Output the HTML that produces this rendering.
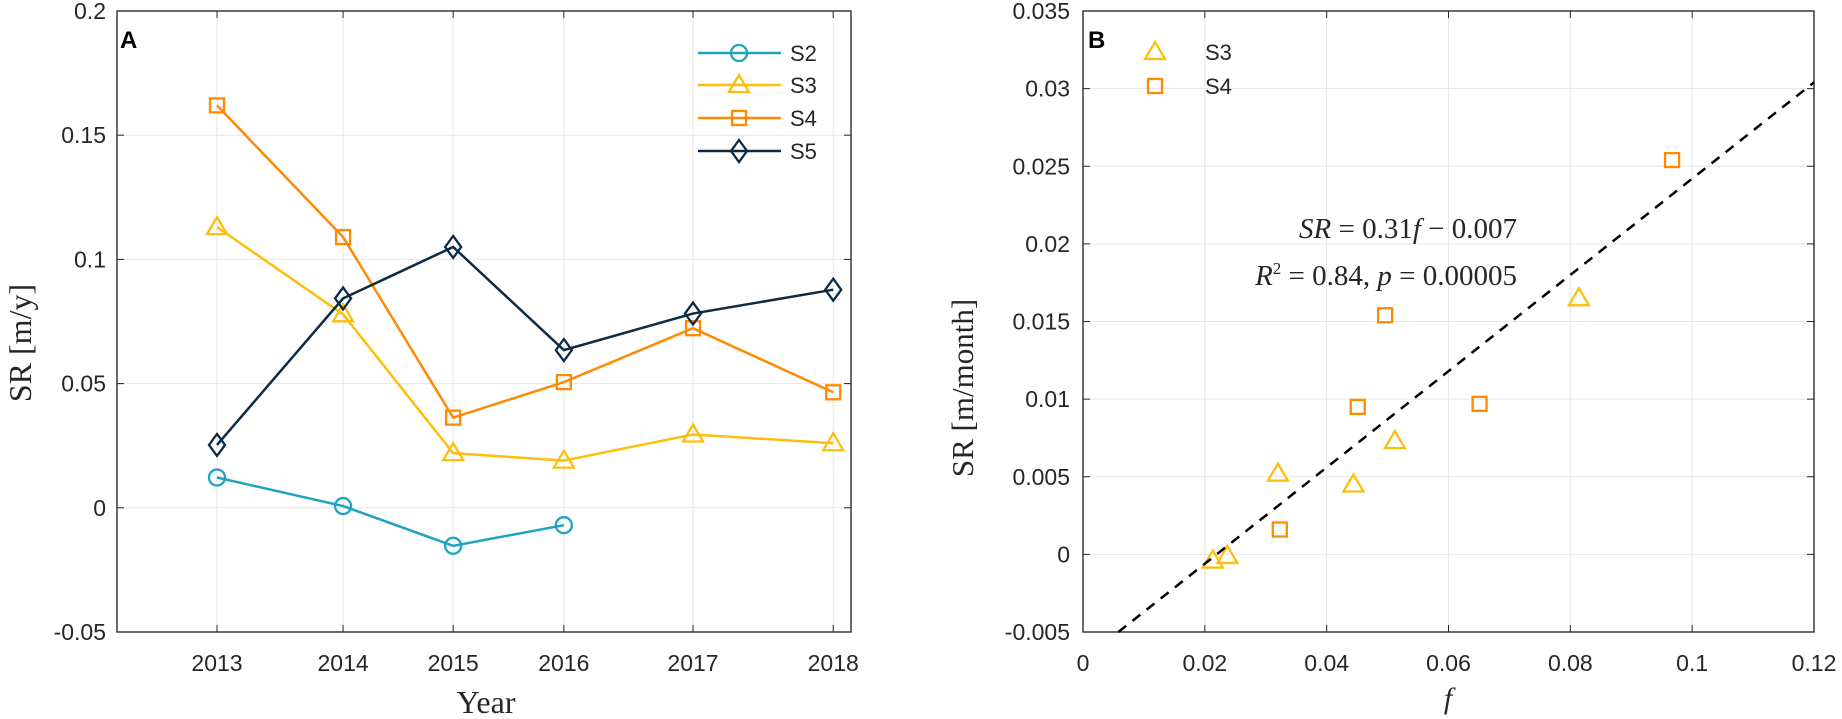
<!DOCTYPE html>
<html><head><meta charset="utf-8"><style>
html,body{margin:0;padding:0;background:#fff;}
svg{display:block;}
text{font-family:"Liberation Sans",sans-serif;fill:#262626;}
.serif{font-family:"Liberation Serif",serif;}
</style></head><body>
<svg id="fig" width="1842" height="719" viewBox="0 0 1842 719" xmlns="http://www.w3.org/2000/svg"></svg>
<script>
// Panel A data
const yearsX = [2013.0, 2014.025, 2014.92, 2015.82, 2016.87, 2018.01];
const yearLabels = ["2013","2014","2015","2016","2017","2018"];
const aYTicks = [-0.05, 0, 0.05, 0.1, 0.15, 0.2];
const aYTickLabels = ["-0.05","0","0.05","0.1","0.15","0.2"];
const s2Vals = [0.0122, 0.0007, -0.0153, -0.007];
const s3Vals = [0.113, 0.0779, 0.022, 0.019, 0.0295, 0.026];
const s4Vals = [0.162, 0.109, 0.0363, 0.0506, 0.0723, 0.0465];
const s5Vals = [0.0253, 0.0843, 0.105, 0.0635, 0.0782, 0.0878];
// Panel B data
const bXTicks = [0, 0.02, 0.04, 0.06, 0.08, 0.1, 0.12];
const bXTickLabels = ["0","0.02","0.04","0.06","0.08","0.1","0.12"];
const bYTicks = [-0.005, 0, 0.005, 0.01, 0.015, 0.02, 0.025, 0.03, 0.035];
const bYTickLabels = ["-0.005","0","0.005","0.01","0.015","0.02","0.025","0.03","0.035"];
const bS3f = [0.0213, 0.0237, 0.032, 0.0444, 0.0512, 0.0814];
const bS3sr = [-0.0004, -0.0001, 0.0052, 0.0045, 0.0073, 0.0165];
const bS4f = [0.0323, 0.0451, 0.0496, 0.0651, 0.0967];
const bS4sr = [0.0016, 0.0095, 0.0154, 0.0097, 0.0254];
const fitSlope = 0.31;
const fitIntercept = -0.0068;

const C = {s2:"#1fa3c1", s3:"#fcbf0c", s4:"#ff8a00", s5:"#0d2b45"};
const svg = document.getElementById('fig');
const NS = "http://www.w3.org/2000/svg";
function mk(tag, attrs, parent){const e=document.createElementNS(NS,tag);for(const k in attrs)e.setAttribute(k,attrs[k]);(parent||svg).appendChild(e);return e;}

const yTop=11, bot=632;
const A = {l:117, r:851};
const ax = v => 217 + (v-2013)*(693-217)/(2016.87-2013);
const ay = v => bot - (v+0.05)*(bot-yTop)/0.25;
const B = {l:1083, r:1814};
const bx = v => B.l + v*(B.r-B.l)/0.12;
const by = v => bot - (v+0.005)*(bot-yTop)/0.04;

function panelFrame(l, r, name){
  const g = mk('g',{});
  
  
  mk('rect',{x:l,y:yTop,width:r-l,height:bot-yTop,fill:'#fff',stroke:'#262626','stroke-width':1.2},g);
  return g;
}
panelFrame(A.l,A.r,'panel-a');
panelFrame(B.l,B.r,'panel-b');

yearsX.forEach((v,i)=>{
  const x=ax(v);
  const gl=mk('line',{x1:x,x2:x,y1:yTop,y2:bot,stroke:'#e6e6e6','stroke-width':1});
  
  
  mk('line',{x1:x,x2:x,y1:bot,y2:bot-7,stroke:'#262626','stroke-width':1});
  mk('line',{x1:x,x2:x,y1:yTop,y2:yTop+7,stroke:'#262626','stroke-width':1});
  const t=mk('text',{x:x,y:671,'text-anchor':'middle','font-size':23});
  t.textContent=yearLabels[i];
  
  
});
aYTicks.forEach((v,i)=>{
  const y=ay(v);
  if(i>0&&i<aYTicks.length-1){const gl=mk('line',{x1:A.l,x2:A.r,y1:y,y2:y,stroke:'#e6e6e6','stroke-width':1});
  
  }
  mk('line',{x1:A.l,x2:A.l+7,y1:y,y2:y,stroke:'#262626','stroke-width':1});
  mk('line',{x1:A.r,x2:A.r-7,y1:y,y2:y,stroke:'#262626','stroke-width':1});
  const t=mk('text',{x:106,y:y+8,'text-anchor':'end','font-size':23});
  t.textContent=aYTickLabels[i];
  
  
});
bXTicks.forEach((v,i)=>{
  const x=bx(v);
  if(i>0&&i<bXTicks.length-1){const gl=mk('line',{x1:x,x2:x,y1:yTop,y2:bot,stroke:'#e6e6e6','stroke-width':1});
  
  }
  mk('line',{x1:x,x2:x,y1:bot,y2:bot-7,stroke:'#262626','stroke-width':1});
  mk('line',{x1:x,x2:x,y1:yTop,y2:yTop+7,stroke:'#262626','stroke-width':1});
  const t=mk('text',{x:x,y:671,'text-anchor':'middle','font-size':23});
  t.textContent=bXTickLabels[i];
  
  
});
bYTicks.forEach((v,i)=>{
  const y=by(v);
  if(i>0&&i<bYTicks.length-1){const gl=mk('line',{x1:B.l,x2:B.r,y1:y,y2:y,stroke:'#e6e6e6','stroke-width':1});
  
  }
  mk('line',{x1:B.l,x2:B.l+7,y1:y,y2:y,stroke:'#262626','stroke-width':1});
  mk('line',{x1:B.r,x2:B.r-7,y1:y,y2:y,stroke:'#262626','stroke-width':1});
  const t=mk('text',{x:1070,y:y+8,'text-anchor':'end','font-size':23});
  t.textContent=bYTickLabels[i];
  
  
});
mk('rect',{x:A.l,y:yTop,width:A.r-A.l,height:bot-yTop,fill:'none',stroke:'#262626','stroke-width':1.2});
mk('rect',{x:B.l,y:yTop,width:B.r-B.l,height:bot-yTop,fill:'none',stroke:'#262626','stroke-width':1.2});

function marker(type,x,y,col,parent){
  if(type==='o') return mk('circle',{cx:x,cy:y,r:8,fill:'none',stroke:col,'stroke-width':2.3},parent);
  if(type==='^') return mk('polygon',{points:`${x},${y-10} ${x+10},${y+7} ${x-10},${y+7}`,fill:'none',stroke:col,'stroke-width':2.3},parent);
  if(type==='s') return mk('rect',{x:x-7,y:y-7,width:14,height:14,fill:'none',stroke:col,'stroke-width':2.3},parent);
  if(type==='d') return mk('polygon',{points:`${x},${y-11} ${x+8},${y} ${x},${y+11} ${x-8},${y}`,fill:'none',stroke:col,'stroke-width':2.3},parent);
}
function series(vals,type,col,name){
  const g=mk('g',{});
  
  
  const pts=vals.map((v,i)=>`${ax(yearsX[i])},${ay(v)}`).join(' ');
  mk('polyline',{points:pts,fill:'none',stroke:col,'stroke-width':2.5},g);
  vals.forEach((v,i)=>{const m=marker(type,ax(yearsX[i]),ay(v),col,g);
    
    });
}
series(s2Vals,'o',C.s2,'series-s2');
series(s3Vals,'^',C.s3,'series-s3');
series(s4Vals,'s',C.s4,'series-s4');
series(s5Vals,'d',C.s5,'series-s5');

const legA=[['S2','o',C.s2,53],['S3','^',C.s3,85],['S4','s',C.s4,118],['S5','d',C.s5,151]];
legA.forEach(([lab,t,col,y])=>{
  const g=mk('g',{});
  
  
  mk('line',{x1:698,x2:781,y1:y,y2:y,stroke:col,'stroke-width':2.5},g);
  marker(t,739,y,col,g);
  const tx=mk('text',{x:790,y:y+8,'font-size':22,fill:'#000'},g);tx.textContent=lab;
});

const gS3=mk('g',{});


bS3f.forEach((f,i)=>{const m=marker('^',bx(f),by(bS3sr[i]),C.s3,gS3);
  
  });
const gS4=mk('g',{});


bS4f.forEach((f,i)=>{const m=marker('s',bx(f),by(bS4sr[i]),C.s4,gS4);
  
  });
const f0=(-0.005-fitIntercept)/fitSlope, f1=0.12;
const fl=mk('line',{x1:bx(f0),y1:by(-0.005),x2:bx(f1),y2:by(fitSlope*f1+fitIntercept),stroke:'#000','stroke-width':2.5,'stroke-dasharray':'10,8'});



[['S3','^',C.s3,52],['S4','s',C.s4,86]].forEach(([lab,t,col,y])=>{
  const g=mk('g',{});
  
  
  marker(t,1155,y,col,g);
  const tx=mk('text',{x:1205,y:y+8,'font-size':22,fill:'#000'},g);tx.textContent=lab;
});
</script>
<svg style="position:absolute;left:0;top:0" width="1842" height="719">
  <text x="120" y="48" font-size="24" font-weight="bold" style="fill:#000">A</text>
  <text x="1088" y="48" font-size="24" font-weight="bold" style="fill:#000">B</text>
  <text class="serif" font-size="32" text-anchor="middle" transform="translate(31,343) rotate(-90)">SR [m/y]</text>
  <text class="serif" font-size="32" text-anchor="middle" x="486" y="713">Year</text>
  <text class="serif" font-size="31" text-anchor="middle" transform="translate(973,388) rotate(-90)">SR [m/month]</text>
  <text class="serif" font-size="30" font-style="italic" text-anchor="middle" x="1448" y="708">f</text>
  <text class="serif" font-size="29" text-anchor="end" x="1517" y="238"><tspan font-style="italic">SR</tspan> = 0.31<tspan font-style="italic">f</tspan> − 0.007</text>
  <text class="serif" font-size="29" text-anchor="end" x="1517" y="285"><tspan font-style="italic">R</tspan><tspan font-size="17" dy="-11">2</tspan><tspan dy="11"> = 0.84, </tspan><tspan font-style="italic">p</tspan> = 0.00005</text>
</svg>
</body></html>
